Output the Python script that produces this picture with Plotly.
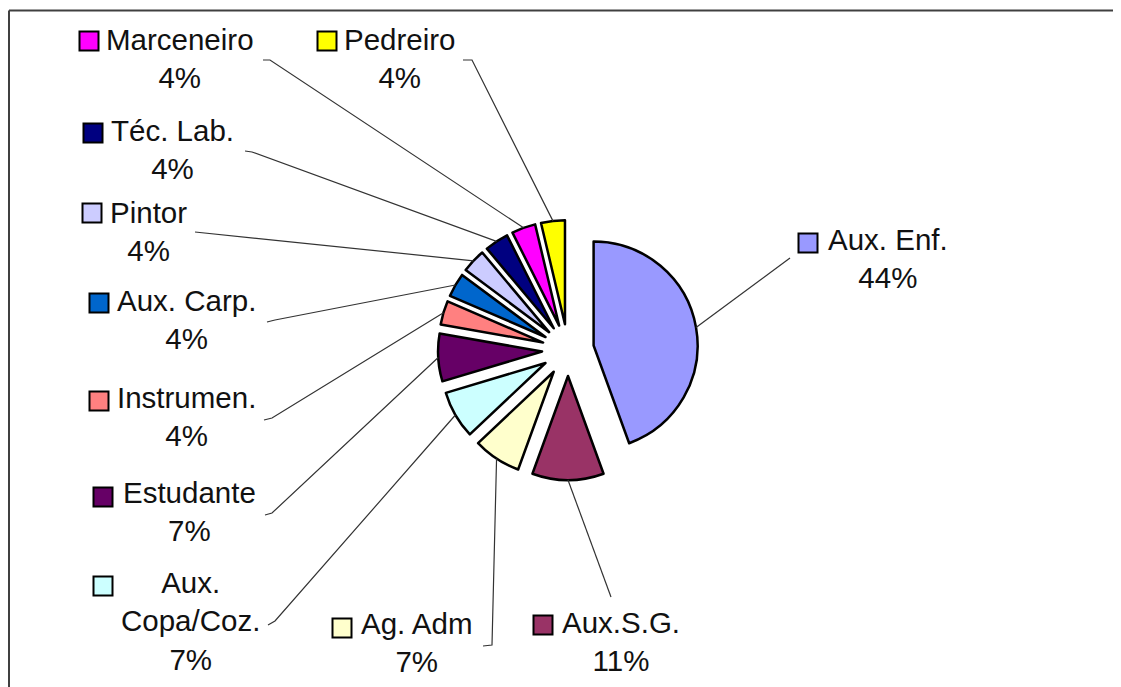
import math
import plotly.graph_objects as go

# ---------------- data ----------------
categories = ["Aux. Enf.", "Aux.S.G.", "Ag. Adm", "Aux. Copa/Coz.", "Estudante",
              "Instrumen.", "Aux. Carp.", "Pintor", "Téc. Lab.", "Marceneiro", "Pedreiro"]
counts = [12, 3, 2, 2, 2, 1, 1, 1, 1, 1, 1]
display_names = ["Aux. Enf.", "Aux.S.G.", "Ag. Adm", "Aux.<br>Copa/Coz.", "Estudante",
                 "Instrumen.", "Aux. Carp.", "Pintor", "Téc. Lab.", "Marceneiro", "Pedreiro"]
colors = ["#9999FF", "#993366", "#FFFFCC", "#CCFFFF", "#660066",
          "#FF8080", "#0066CC", "#CCCCFF", "#000080", "#FF00FF", "#FFFF00"]

# ---------------- layout (screen pixel positions) ----------------
W, H = 1121, 687
OFF = 8  # page body margin offset
pie_cx, pie_cy, pie_half = 568, 350, 130
pull = 0.25
# label block centre (x of name text centre, y of block centre)
label_pos = [(888, 258), (621, 641), (417, 642), (190, 621), (189, 511),
             (186, 416), (186, 319), (148, 232), (172, 149), (180, 58), (400, 58)]
# legend-key square centres
square_pos = [(808, 243), (543, 625), (342, 628), (103, 586), (103, 497),
              (99, 401), (99, 303), (92, 213), (93, 133), (89, 41), (327, 41)]
# leader line start (label side) and optional elbow
leader_start = [(790, 258), (611, 597), (483, 646), (268, 625), (265, 515),
                (264, 420), (267, 322), (195, 232), (245, 151), (263, 60), (463, 60)]
leader_elbow = [None, None, (492, 645), (275, 621), (272, 513),
                (272, 418), (275, 320), None, (252, 152), (270, 60), (472, 60)]


def px(x):
    return (x - OFF) / W


def py(y):
    return 1 - (y - OFF) / H


total = sum(counts)
pct_text = [f"{round(100 * v / total)}%" for v in counts]

fig = go.Figure(go.Pie(
    labels=categories,
    values=counts,
    sort=False,
    direction="clockwise",
    rotation=0,
    pull=[pull] * len(counts),
    marker=dict(colors=colors, line=dict(color="#000000", width=2.5)),
    textinfo="none",
    hoverinfo="label+percent",
    showlegend=False,
    domain=dict(x=[px(pie_cx - pie_half), px(pie_cx + pie_half)],
                y=[py(pie_cy + pie_half), py(pie_cy - pie_half)]),
))

# radius as plotly computes it
r = pie_half / (1 + pull)

shapes = []
annotations = []
cum = 0
for i, v in enumerate(counts):
    mid = (cum + v / 2) / total * 2 * math.pi
    cum += v
    ex = pie_cx + (1 + pull) * r * math.sin(mid)
    ey = pie_cy - (1 + pull) * r * math.cos(mid)
    pts = [leader_start[i]]
    if leader_elbow[i] is not None:
        pts.append(leader_elbow[i])
    pts.append((ex, ey))
    path = "M " + " L ".join(f"{px(x):.5f},{py(y):.5f}" for x, y in pts)
    shapes.append(dict(type="path", path=path, xref="paper", yref="paper",
                       line=dict(color="#333333", width=1.2)))
    sx, sy = square_pos[i]
    s = 9.5
    shapes.append(dict(type="rect", xref="paper", yref="paper",
                       x0=px(sx - s), x1=px(sx + s), y0=py(sy + s), y1=py(sy - s),
                       fillcolor=colors[i], line=dict(color="#000000", width=2)))
    lx, ly = label_pos[i]
    annotations.append(dict(
        x=px(lx), y=py(ly), xref="paper", yref="paper",
        text=f"{display_names[i]}<br>{pct_text[i]}",
        showarrow=False, xanchor="center", yanchor="middle", align="center",
        font=dict(family="Liberation Sans, Arial, sans-serif", size=29.5, color="#111111"),
    ))

# outer frame (top and left edges)
shapes.append(dict(type="line", xref="paper", yref="paper",
                   x0=px(9), x1=1, y0=py(10.5), y1=py(10.5),
                   line=dict(color="#404040", width=2)))
shapes.append(dict(type="line", xref="paper", yref="paper",
                   x0=px(9), x1=px(9), y0=py(10.5), y1=0,
                   line=dict(color="#404040", width=2)))

fig.update_layout(
    width=W, height=H,
    margin=dict(l=0, r=0, t=0, b=0),
    paper_bgcolor="white", plot_bgcolor="white",
    shapes=shapes, annotations=annotations,
)

fig.write_html("out.html")
